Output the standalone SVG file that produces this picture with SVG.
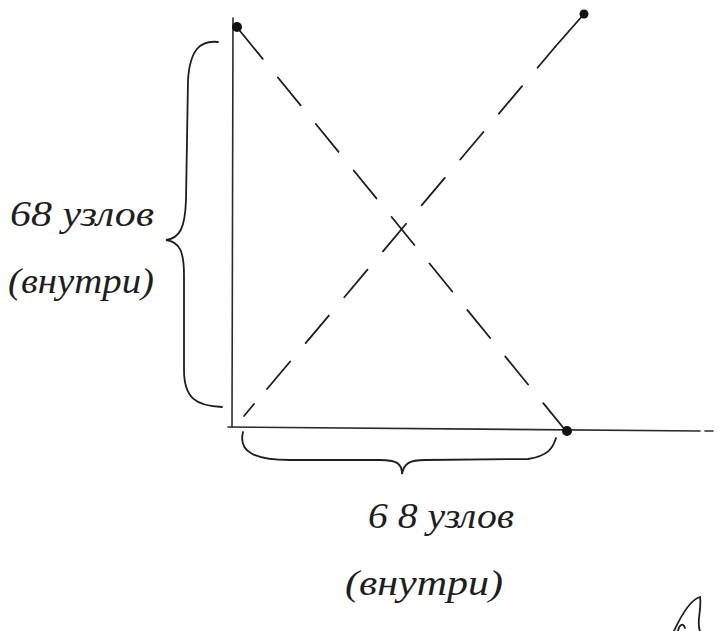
<svg xmlns="http://www.w3.org/2000/svg" width="725" height="631" viewBox="0 0 725 631">
<style>
.ax{stroke:#2a2a2a;stroke-width:1.6;fill:none;stroke-linecap:round}
.ds{stroke:#1e1e1e;stroke-width:1.8;fill:none;stroke-dasharray:36 24;stroke-linecap:round}
.br{stroke:#1e1e1e;stroke-width:1.8;fill:none;stroke-linecap:round}
.t{font-family:"Liberation Serif",serif;font-style:italic;font-size:35px;fill:#1e1e1e}
.dot{fill:#111}
</style>
<rect width="725" height="631" fill="#fff"/>
<g id="connectors">
<path class="ax" d="M233 18 L232 427"/>
<path class="ax" d="M228 427 L700 431"/>
<path class="ax" d="M705 431 L713 431"/>
<path class="ds" d="M240 31 L566 431"/>
<path class="ds" d="M267 389 L555 47"/>
<path class="br" d="M555 47 L584 14"/>
<path class="br" d="M244 416 L254 404"/>
</g>
<g id="node-top-left"><circle class="dot" cx="237" cy="27" r="5"/></g>
<g id="node-top-right"><circle class="dot" cx="584" cy="14" r="4.5"/></g>
<g id="node-bottom-right"><circle class="dot" cx="567" cy="431" r="5"/></g>
<g id="brace-left">
<path class="br" d="M218 42 C200 40 190 50 188 80 L186 200 C185 228 180 238 166 240 C180 242 184 252 184 275 L184 370 C184 398 196 406 222 407"/>
</g>
<g id="brace-bottom">
<path class="br" d="M243 432 C238 452 255 460 290 460 L380 460 C396 460 402 463 402 474 C404 463 410 460 425 460 L528 459 C548 456 553 448 556 438"/>
</g>
<g id="label-left">
<text class="t" x="10" y="226" textLength="144" lengthAdjust="spacingAndGlyphs">68 узлов</text>
<text class="t" x="8" y="293" textLength="146" lengthAdjust="spacingAndGlyphs">(внутри)</text>
</g>
<g id="label-bottom">
<text class="t" x="368" y="528" textLength="146" lengthAdjust="spacingAndGlyphs">6 8 узлов</text>
<text class="t" x="345" y="595" textLength="158" lengthAdjust="spacingAndGlyphs">(внутри)</text>
</g>
<path class="br" d="M674 631 C680 618 690 600 700 597 C702 610 696 622 700 631 M678 631 C679 625 683 622 685 628"/>
</svg>
